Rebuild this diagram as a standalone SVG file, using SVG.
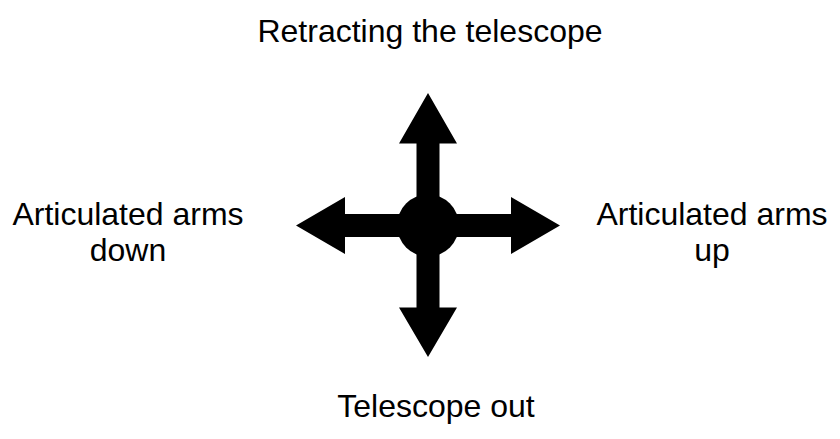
<svg xmlns="http://www.w3.org/2000/svg" width="840" height="439" viewBox="0 0 840 439">
<style>
text{font-family:"Liberation Sans",Arial,sans-serif;font-size:32px;fill:#000;text-anchor:middle}
.arrow{fill:#000}
</style>
<rect width="840" height="439" fill="#fff"/>
<g id="connectors">
<polygon class="arrow" points="428,93 457,143.5 439.5,143.5 439.5,225 416.5,225 416.5,143.5 399,143.5"/>
<polygon class="arrow" points="428,357 457,307.5 439.5,307.5 439.5,225 416.5,225 416.5,307.5 399,307.5"/>
<polygon class="arrow" points="296,225.5 345,197 345,214 428,214 428,237 345,237 345,254"/>
<polygon class="arrow" points="560,225.5 511,197 511,214 428,214 428,237 511,237 511,254"/>
</g>
<g id="hub"><circle cx="428" cy="225.5" r="31"/></g>
<g id="top"><text x="430" y="42">Retracting the telescope</text></g>
<g id="left"><text x="128" y="225">Articulated arms</text><text x="128" y="261">down</text></g>
<g id="right"><text x="712" y="225">Articulated arms</text><text x="712" y="261">up</text></g>
<g id="bottom"><text x="436" y="417">Telescope out</text></g>
</svg>
